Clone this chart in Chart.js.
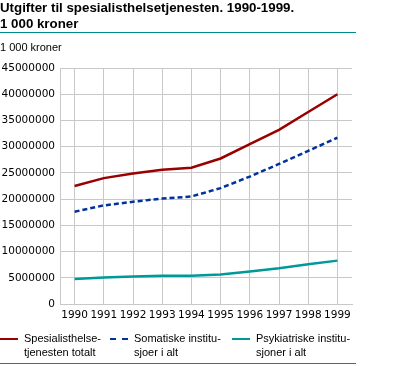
<!DOCTYPE html>
<html>
<head>
<meta charset="utf-8">
<script src="https://cdn.jsdelivr.net/npm/chart.js@4/dist/chart.umd.min.js"></script>
<style>
  body { margin: 0; background: #fff; font-family: "Liberation Sans", Arial, sans-serif; }
  #wrap { position: relative; width: 413px; height: 366px; overflow: hidden; }
  #title { position: absolute; left: 0; top: 0; font-weight: bold; font-size: 13.3px; line-height: 16px; color: #000; }
  #rule1 { position: absolute; left: 0; top: 32px; width: 356px; height: 1px; background: #008c8c; }
  #unit { position: absolute; left: 0; top: 41px; font-size: 11px; color: #000; }
  #chart { position: absolute; left: 0; top: 0; }
  #legend { position: absolute; left: 0; top: 331px; width: 400px; height: 30px; font-size: 11px; line-height: 14px; }
  .item { position: absolute; top: 0; }
  .swatch { position: absolute; top: 7px; width: 18px; height: 0; }
  .txt { position: absolute; top: 0; white-space: pre; }
  #rule2 { position: absolute; left: 0; top: 363px; width: 356px; height: 1px; background: #008c8c; }
</style>
</head>
<body>
<div id="wrap">
  <canvas id="chart" width="413" height="366"></canvas>
  <div id="title">Utgifter til spesialisthelsetjenesten. 1990-1999.<br>1 000 kroner</div>
  <div id="rule1"></div>
  <div id="unit">1 000 kroner</div>
  <div id="legend"></div>
  <div id="rule2"></div>
</div>
<script>
// data
const years = ["1990", "1991", "1992", "1993", "1994", "1995", "1996", "1997", "1998", "1999"]
const totalt = [22500000, 24000000, 24900000, 25600000, 26000000, 27750000, 30500000, 33200000, 36600000, 40000000]
const somatiske = [17600000, 18800000, 19500000, 20100000, 20500000, 22100000, 24300000, 26700000, 29200000, 31700000]
const psykiatriske = [4750000, 5060000, 5250000, 5380000, 5400000, 5630000, 6200000, 6800000, 7560000, 8270000]
const seriesNames = ["Spesialisthelse-\ntjenesten totalt", "Somatiske institu-\nsjoer i alt", "Psykiatriske institu-\nsjoner i alt"]
const yTicks = [0, 5000000, 10000000, 15000000, 20000000, 25000000, 30000000, 35000000, 40000000, 45000000]

const colors = ["#990000", "#003399", "#009999"]
const legendX = [0, 110, 232]

const tickFont = { family: "DejaVu Sans", size: 10.5 }

const ctx = document.getElementById("chart").getContext("2d")
const myChart = new Chart(ctx, {
  type: "line",
  data: {
    labels: years,
    datasets: [
      { label: seriesNames[0], data: totalt, borderColor: colors[0], borderWidth: 2.5 },
      { label: seriesNames[1], data: somatiske, borderColor: colors[1], borderWidth: 2.5, borderDash: [5, 3] },
      { label: seriesNames[2], data: psykiatriske, borderColor: colors[2], borderWidth: 2.5 },
    ],
  },
  options: {
    responsive: false,
    animation: false,
    layout: { padding: { top: 68, left: 0, right: 61, bottom: 46 } },
    elements: { point: { radius: 0 }, line: { tension: 0 } },
    plugins: { legend: { display: false }, tooltip: { enabled: false } },
    scales: {
      x: {
        offset: true,
        grid: { offset: false, color: "#c8c8c8", drawTicks: false },
        border: { color: "#c8c8c8" },
        ticks: { color: "#000", font: tickFont, padding: 5, maxRotation: 0, autoSkip: false },
        afterFit: (s) => { s.height = 16 },
      },
      y: {
        min: 0,
        max: 45000000,
        afterBuildTicks: (s) => { s.ticks = yTicks.map((v) => ({ value: v })) },
        grid: { color: "#c8c8c8", drawTicks: false },
        border: { color: "#c8c8c8" },
        ticks: { color: "#000", font: tickFont, padding: 5, callback: (v) => String(v) },
        afterFit: (s) => { s.width = 60 },
      },
    },
  },
})

// legend, built from the datasets
const legend = document.getElementById("legend")
myChart.data.datasets.forEach((ds, i) => {
  const item = document.createElement("div")
  item.className = "item"
  item.style.left = legendX[i] + "px"
  const sw = document.createElement("div")
  sw.className = "swatch"
  sw.style.borderTop = "2.5px " + (ds.borderDash ? "dashed " : "solid ") + ds.borderColor
  const txt = document.createElement("div")
  txt.className = "txt"
  txt.style.left = "24px"
  txt.textContent = ds.label
  item.appendChild(sw)
  item.appendChild(txt)
  legend.appendChild(item)
})
</script>
</body>
</html>
